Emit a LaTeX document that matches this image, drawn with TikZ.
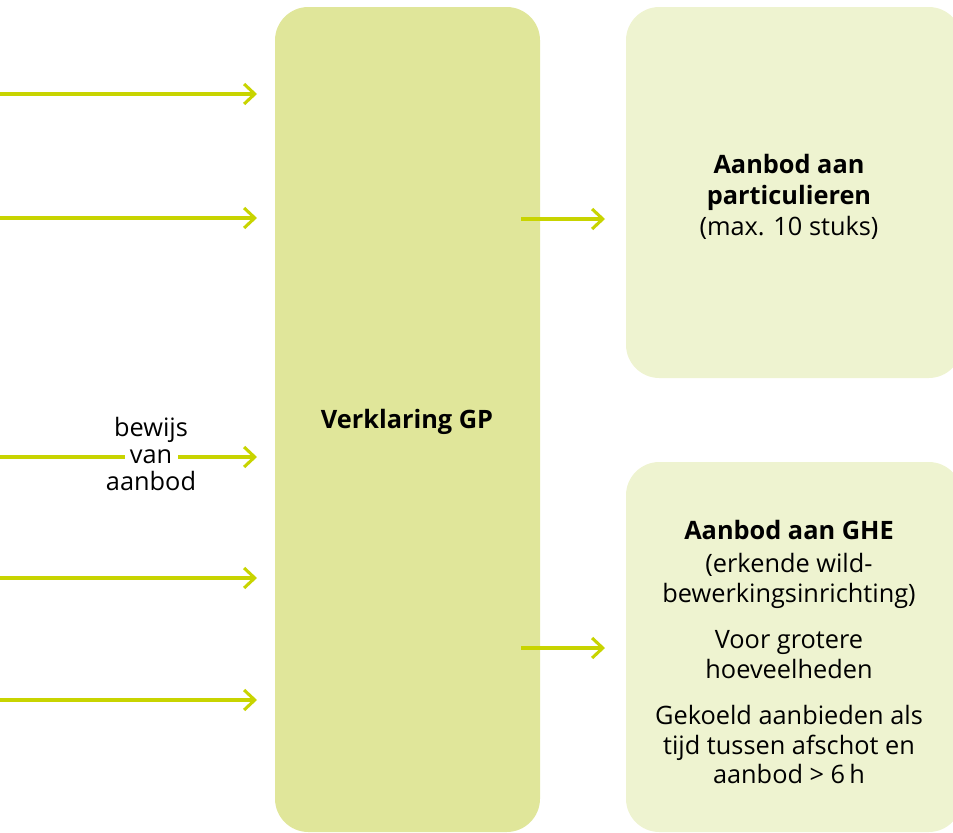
\documentclass[tikz,border=0pt]{standalone}
\usepackage{fontspec}
\setmainfont{Open Sans}
\usetikzlibrary{arrows.meta}
\definecolor{lime}{RGB}{200,212,0}
\definecolor{boxmid}{RGB}{224,230,154}
\definecolor{boxlight}{RGB}{238,243,208}
\begin{document}
\begin{tikzpicture}[x=0.75pt,y=-0.75pt,
  midbox/.style={fill=boxmid, rounded corners=25pt, inner sep=0pt},
  sidebox/.style={fill=boxlight, rounded corners=25pt, inner sep=0pt},
  arr/.style={draw=lime, line width=2.3pt, -{Straight Barb[length=8pt,width=15pt,line width=2.3pt]}},
  txt/.style={align=center, font=\fontsize{19}{22}\selectfont, inner sep=0pt, text=black}]
\useasboundingbox (0,0) rectangle (953,832);
% boxes
\node[midbox, minimum width=198.75pt, minimum height=618.75pt] (gp) at (407.5,419.5) {};
\node[sidebox, minimum width=252pt, minimum height=278.25pt] (part) at (794,192.5) {};
\node[sidebox, minimum width=252pt, minimum height=277.5pt] (ghe) at (794,647) {};
% texts
\node[txt, font=\fontsize{19}{22}\selectfont\bfseries] (gpt) at (407,422) {Verklaring GP};
\node[txt, font=\fontsize{19}{23.5}\selectfont] (partt) at (789,197) {\textbf{Aanbod aan}\\\textbf{particulieren}\\(max. 10 stuks)};
\node[txt] (ghet) at (789,652) {\textbf{Aanbod aan GHE}\\[3pt](erkende wild-\\bewerkingsinrichting)\\[13pt]Voor grotere\\hoeveelheden\\[13pt]Gekoeld aanbieden als\\tijd tussen afschot en\\aanbod > 6\,h};
% left arrows
\coordinate (l1) at (0,94);   \coordinate (t1) at (257,94);
\coordinate (l2) at (0,218);  \coordinate (t2) at (257,218);
\coordinate (l3) at (0,457);  \coordinate (t3) at (257,457);
\coordinate (l4) at (0,578);  \coordinate (t4) at (257,578);
\coordinate (l5) at (0,700);  \coordinate (t5) at (257,700);
\draw[arr] (l1) -- (t1);
\draw[arr] (l2) -- (t2);
\draw[arr] (l3) -- (t3);
\draw[arr] (l4) -- (t4);
\draw[arr] (l5) -- (t5);
\node[txt, fill=white, inner xsep=4pt, inner ysep=1pt, anchor=base] (van) at (151,463) {van};
\node[txt, anchor=base] (bew) at (151,436) {bewijs};
\node[txt, anchor=base] (aan) at (151,490) {aanbod};
% right arrows
\coordinate (r1) at (521,219); \coordinate (e1) at (605,219);
\coordinate (r2) at (521,648); \coordinate (e2) at (605,648);
\draw[arr] (r1) -- (e1);
\draw[arr] (r2) -- (e2);
\end{tikzpicture}
\end{document}
